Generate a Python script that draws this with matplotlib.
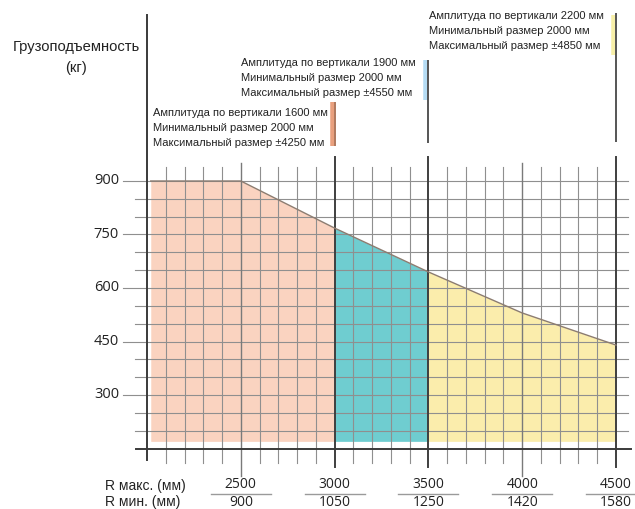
import numpy as np
import matplotlib.pyplot as plt

plt.rcParams['font.family'] = ['Liberation Sans', 'DejaVu Sans']

# --- data ---
r_max = [2500, 3000, 3500, 4000, 4500]
r_min = [900, 1050, 1250, 1420, 1580]
y_ticks = [300, 450, 600, 750, 900]

curve_x = [2020, 2500, 3000, 3500, 4000, 4500]
curve_y = [900, 900, 768, 645, 530, 440]

zone_edges = [2020, 3000, 3500, 4500]
zone_colors = ['#FAD3C0', '#6FCDD0', '#FBEDAC']
zone_bar_colors = ['#E9A07E', '#B5DCF4', '#F8F0A8']
fill_bottom = 170

amplitudes = [1600, 1900, 2200]
min_sizes = [2000, 2000, 2000]
max_sizes = [4250, 4550, 4850]

# pixel anchors -> data scale (figure 635x509 px)
W, H = 635, 509
x0_px, sx = 147.0, 469.0 / 2500      # x=2000 at px 147
y0_px, sy = 181.0, 214.0 / 600       # y=900 at px 181


def dx(px):
    return 2000 + (px - x0_px) / sx


def dy(py):
    return 900 + (y0_px - py) / sy


fig = plt.figure(figsize=(W / 100, H / 100), dpi=100)
ax = fig.add_axes([0, 0, 1, 1])
ax.set_xlim(dx(0), dx(W))
ax.set_ylim(dy(H), dy(0))
ax.axis('off')

# coloured zones under the capacity curve
cx = np.array(curve_x, dtype=float)
cy = np.array(curve_y, dtype=float)
for i in range(3):
    lo, hi = zone_edges[i], zone_edges[i + 1]
    xs = np.concatenate([[lo], cx[(cx > lo) & (cx < hi)], [hi]])
    ys = np.interp(xs, cx, cy)
    ax.fill_between(xs, fill_bottom, ys, color=zone_colors[i], lw=0, zorder=1)
ax.plot(curve_x, curve_y, color='#8c7c70', lw=1, zorder=4)

# grid
grid_c = '#8f8f8f'
for v in range(200, 901, 50):
    left = dx(123) if v in y_ticks else dx(135)
    ax.plot([left, dx(628)], [v, v], color=grid_c, lw=0.8, zorder=2)
for v in range(2100, 4500, 100):
    if v in (3000, 3500):
        continue
    if v in r_max:
        ax.plot([v, v], [dy(476), dy(163)], color='#7a7a7a', lw=1.0, zorder=2)
    else:
        ax.plot([v, v], [dy(463), dy(167)], color=grid_c, lw=0.8, zorder=2)

# heavy zone boundaries
for v in (3000, 3500, 4500):
    ax.plot([v, v], [dy(467), dy(157)], color='#3f3f3f', lw=1.4, zorder=3)

# axes lines
ax.plot([2000, 2000], [dy(460), dy(15)], color='#3a3a3a', lw=1.4, zorder=3)
ax.plot([dx(136), dx(631)], [150, 150], color='#3a3a3a', lw=1.4, zorder=3)

# y tick labels
for v in y_ticks:
    ax.text(dx(119), v, str(v), ha='right', va='center', fontsize=10.5,
            color='#222222', family=['Open Sans', 'DejaVu Sans'])

ax.text(dx(76), dy(47), 'Грузоподъемность', ha='center', va='center',
        fontsize=10.6, color='#222222')
ax.text(dx(76), dy(68), '(кг)', ha='center', va='center', fontsize=10.6,
        color='#222222')

# bottom labels
ax.text(dx(105), dy(486), 'R макс. (мм)', ha='left', va='center', fontsize=10, color='#222222')
ax.text(dx(105), dy(502), 'R мин. (мм)', ha='left', va='center', fontsize=10, color='#222222')
for a, b in zip(r_max, r_min):
    ax.text(a, dy(485), str(a), ha='center', va='center', fontsize=10,
            color='#222222', family=['Open Sans', 'DejaVu Sans'])
    ax.text(a, dy(503), str(b), ha='center', va='center', fontsize=10,
            color='#222222', family=['Open Sans', 'DejaVu Sans'])
    ax.plot([a - 30 / sx, a + 30 / sx], [dy(494), dy(494)], color='#9a9a9a', lw=1)

# annotation blocks with marker bars
text_left = [153, 241, 429]
text_top = [113, 63, 16]
bar_x = [3000, 3500, 4500]
bar_span = [(102, 146), (60, 143), (13, 142)]
glow_span = [(102, 146), (60, 100), (15, 55)]
for i in range(3):
    lines = ['Амплитуда по вертикали %d мм' % amplitudes[i],
             'Минимальный размер %d мм' % min_sizes[i],
             'Максимальный размер ±%d мм' % max_sizes[i]]
    for j, s in enumerate(lines):
        ax.text(dx(text_left[i]), dy(text_top[i] + 15 * j), s, ha='left', va='center',
                fontsize=8, color='#222222')
    g0, g1 = glow_span[i]
    ax.plot([bar_x[i] - 2 / sx] * 2, [dy(g1), dy(g0)], color=zone_bar_colors[i],
            lw=4, solid_capstyle='butt', zorder=2)
    b0, b1 = bar_span[i]
    ax.plot([bar_x[i]] * 2, [dy(b1), dy(b0)], color='#555555' if i else '#b07a60',
            lw=1.4, solid_capstyle='butt', zorder=3)

fig.savefig('out.png', dpi=100)
